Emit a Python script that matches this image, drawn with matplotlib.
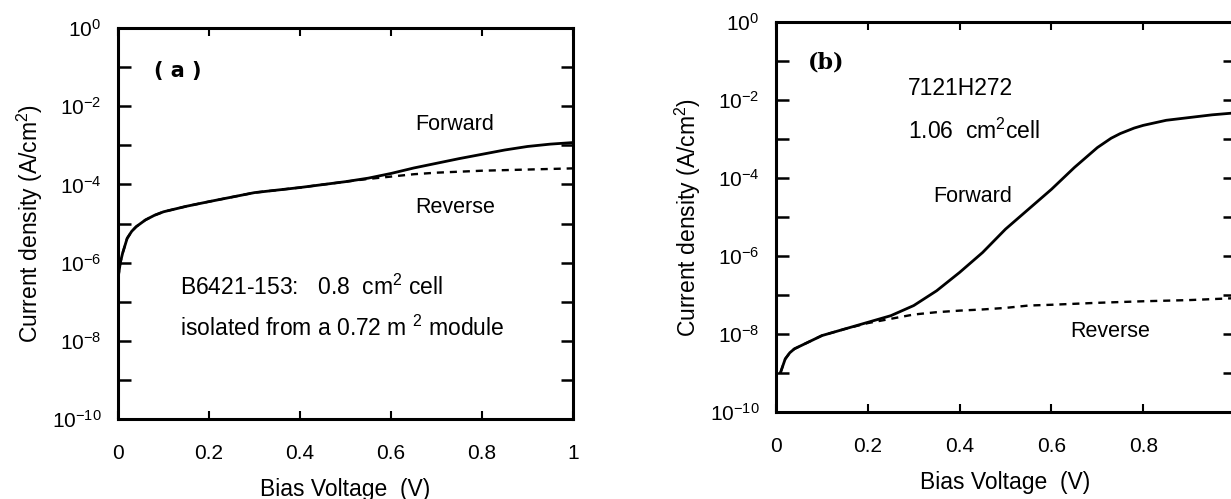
import numpy as np
import matplotlib
matplotlib.use('Agg')
import matplotlib.pyplot as plt

plt.rcParams['font.family'] = ['Liberation Sans', 'DejaVu Sans']
plt.rcParams['mathtext.fontset'] = 'custom'
plt.rcParams['mathtext.rm'] = 'Liberation Sans'
plt.rcParams['mathtext.it'] = 'Liberation Sans'

# panel (a): B6421-153, log10 of current density
a_fwd_v = [0.0, 0.005, 0.01, 0.02, 0.03, 0.04, 0.06, 0.08, 0.1, 0.15, 0.2, 0.3, 0.4, 0.5, 0.55, 0.6,
           0.65, 0.7, 0.75, 0.8, 0.85, 0.9, 0.95, 1.0]
a_fwd_logj = [-6.4, -6.0, -5.76, -5.38, -5.2, -5.08, -4.91, -4.79, -4.70, -4.56, -4.44, -4.21, -4.08, -3.93,
              -3.84, -3.72, -3.58, -3.46, -3.34, -3.23, -3.12, -3.03, -2.97, -2.93]
a_rev_v = [0.0, 0.005, 0.01, 0.02, 0.03, 0.04, 0.06, 0.08, 0.1, 0.15, 0.2, 0.3, 0.4, 0.5, 0.55, 0.6,
           0.65, 0.7, 0.8, 0.9, 1.0]
a_rev_logj = [-6.4, -6.0, -5.76, -5.38, -5.2, -5.08, -4.91, -4.79, -4.70, -4.56, -4.44, -4.21, -4.08, -3.93,
              -3.86, -3.80, -3.74, -3.70, -3.65, -3.62, -3.59]

# panel (b): 7121H272
b_fwd_v = [0.01, 0.02, 0.03, 0.04, 0.07, 0.1, 0.15, 0.2, 0.25, 0.3, 0.35, 0.4, 0.45, 0.5, 0.55,
           0.6, 0.65, 0.7, 0.73, 0.75, 0.78, 0.8, 0.85, 0.9, 0.95, 1.0]
b_fwd_logj = [-8.98, -8.64, -8.48, -8.38, -8.21, -8.04, -7.87, -7.70, -7.53, -7.27, -6.89, -6.42, -5.91, -5.31,
              -4.80, -4.29, -3.73, -3.22, -2.98, -2.86, -2.72, -2.65, -2.52, -2.45, -2.38, -2.33]
b_rev_v = [0.01, 0.02, 0.03, 0.04, 0.07, 0.1, 0.15, 0.2, 0.25, 0.3, 0.35, 0.4, 0.45, 0.5, 0.55,
           0.6, 0.7, 0.8, 0.9, 1.0]
b_rev_logj = [-8.98, -8.64, -8.48, -8.38, -8.21, -8.04, -7.87, -7.72, -7.61, -7.50, -7.44, -7.40, -7.37, -7.33,
              -7.27, -7.25, -7.20, -7.16, -7.13, -7.08]

x_ticks = [0, 0.2, 0.4, 0.6, 0.8, 1]
x_tick_labels = ['0', '0.2', '0.4', '0.6', '0.8', '1']
decades = list(range(0, -11, -1))


def style_panel(ax):
    ax.set_yscale('log')
    ax.set_xlim(0, 1)
    ax.set_ylim(1e-10, 1)
    ax.set_xticks(x_ticks)
    ax.set_xticklabels(x_tick_labels)
    ax.set_yticks([10.0 ** d for d in decades])
    ax.set_yticklabels([r'$10^{%d}$' % d if d % 2 == 0 else '' for d in decades])
    ax.minorticks_off()
    ax.tick_params(axis='x', direction='in', top=True, length=6, width=1.5, pad=18, labelsize=15)
    ax.tick_params(axis='y', direction='in', right=True, length=9, width=1.8, pad=12, labelsize=15)
    for s in ax.spines.values():
        s.set_linewidth(2.2)
    ax.set_xlabel('Bias Voltage  (V)', fontsize=16.5, labelpad=11)
    ax.set_ylabel('Current density (A/cm$^2$)', fontsize=16.5, labelpad=5)


fig = plt.figure(figsize=(12.31, 4.99), dpi=100)
ax_a = fig.add_axes([0.0959, 0.1603, 0.3696, 0.7836])
ax_b = fig.add_axes([0.6304, 0.1743, 0.3729, 0.7816])

ax_a.plot(a_rev_v, 10.0 ** np.array(a_rev_logj), color='black', lw=1.7, ls=(0, (3, 2.5)))
ax_a.plot(a_fwd_v, 10.0 ** np.array(a_fwd_logj), color='black', lw=2.0)
style_panel(ax_a)
ax_a.text(0.08, 10 ** -1.1, '( a )', fontsize=15, fontweight='bold', family='DejaVu Sans', va='center')
ax_a.text(0.74, 10 ** -2.46, 'Forward', fontsize=15.5, ha='center', va='center')
ax_a.text(0.74, 10 ** -4.58, 'Reverse', fontsize=15.5, ha='center', va='center')
ax_a.text(0.136, 10 ** -6.62, 'B6421-153:   0.8  cm$^2$ cell', fontsize=16.5, va='center')
ax_a.text(0.136, 10 ** -7.67, 'isolated from a 0.72 m $^2$ module', fontsize=16.5, va='center')

ax_b.plot(b_rev_v, 10.0 ** np.array(b_rev_logj), color='black', lw=1.7, ls=(0, (3, 2.5)))
ax_b.plot(b_fwd_v, 10.0 ** np.array(b_fwd_logj), color='black', lw=2.0)
style_panel(ax_b)
ax_b.text(0.07, 10 ** -1.05, '(b)', fontsize=16, fontweight='bold', family='DejaVu Serif', va='center')
ax_b.text(0.288, 10 ** -1.70, '7121H272', fontsize=16.5, va='center')
ax_b.text(0.288, 10 ** -2.81, '1.06  cm$^2$cell', fontsize=16.5, va='center')
ax_b.text(0.428, 10 ** -4.48, 'Forward', fontsize=15.5, ha='center', va='center')
ax_b.text(0.727, 10 ** -7.94, 'Reverse', fontsize=15.5, ha='center', va='center')

fig.savefig('out.png', dpi=100)
